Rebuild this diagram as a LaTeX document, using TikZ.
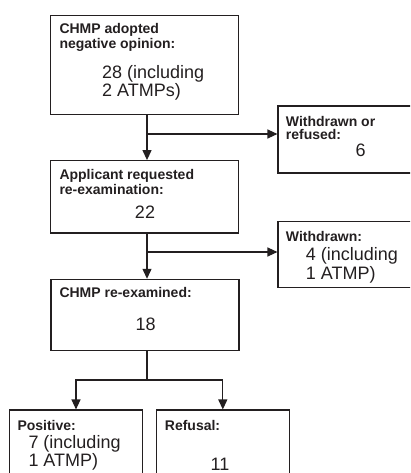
\documentclass[tikz,border=0pt]{standalone}
\usepackage{fontspec}
\setmainfont{Liberation Sans}
\usetikzlibrary{arrows.meta}
\definecolor{ink}{RGB}{35,31,32}
\tikzstyle{box}=[draw=ink, line width=1.1pt, rectangle, inner sep=0, minimum width=188pt]
\tikzstyle{sidebox}=[box, minimum width=152pt, minimum height=67pt]
\tikzstyle{endbox}=[box, minimum width=133pt, minimum height=80pt]
% multi-line texts sit on the baseline of their last line
\tikzstyle{title}=[inner sep=0, anchor=base west, align=left, text=ink,
                   font=\fontsize{14}{15}\selectfont\bfseries]
\tikzstyle{count}=[inner sep=0, anchor=base west, align=left, text=ink,
                   font=\fontsize{18}{18.4}\selectfont]
\tikzstyle{arr}=[draw=ink, line width=1.2pt, -{Triangle[length=10pt,width=9pt]}]
\tikzstyle{link}=[draw=ink, line width=1.2pt]

\begin{document}
\begin{tikzpicture}[x=1pt, y=-1pt]
    \useasboundingbox (0, 0) rectangle (410, 473);
    \clip (0, 0) rectangle (410, 473);
    % boxes
    \node[box, minimum height=99.5pt] (adopted) at (144.5, 65.2) {};
    \node[sidebox] (refused) at (354, 139.5) {};
    \node[box, minimum height=72.3pt] (request) at (144.5, 196.8) {};
    \node[sidebox, minimum height=66pt] (withdrawn) at (354, 254.7) {};
    \node[box, minimum height=70.7pt] (reexam) at (145, 314.7) {};
    \node[endbox] (positive) at (76, 450) {};
    \node[endbox] (refusal) at (222.8, 450) {};
    % texts
    \node[title] (adoptedT) at (59.3, 48.3) {CHMP adopted\\negative opinion:};
    \node[count] (adoptedN) at (102, 96.7) {28 (including\\2 ATMPs)};
    \node[title, font=\fontsize{14}{12.7}\selectfont\bfseries] (refusedT) at (285.7, 139.3) {Withdrawn or\\refused:};
    \node[count, anchor=base] (refusedN) at (360.7, 156.7) {6};
    \node[title] (requestT) at (59.3, 194) {Applicant requested\\re-examination:};
    \node[count, anchor=base] (requestN) at (145, 218.7) {22};
    \node[title] (withdrawnT) at (285.7, 241.7) {Withdrawn:};
    \node[count, font=\fontsize{18}{18.6}\selectfont] (withdrawnN) at (305.7, 279.3) {4 (including\\1 ATMP)};
    \node[title] (reexamT) at (59.3, 297) {CHMP re-examined:};
    \node[count, anchor=base] (reexamN) at (145.7, 330.3) {18};
    \node[title] (positiveT) at (17.3, 430) {Positive:};
    \node[count] (positiveN) at (28.3, 466.7) {7 (including\\1 ATMP)};
    \node[title] (refusalT) at (164.7, 430) {Refusal:};
    \node[count, anchor=base] (refusalN) at (220, 470) {11};
    % connectors
    \coordinate (split1) at (147, 134);
    \coordinate (split2) at (147, 252);
    \coordinate (split3) at (147, 380);
    \draw[arr] (split1 |- adopted.south) -- (split1 |- request.north);
    \draw[arr] (split1) -- (split1 -| refused.west);
    \draw[arr] (split2 |- request.south) -- (split2 |- reexam.north);
    \draw[arr] (split2) -- (split2 -| withdrawn.west);
    \draw[link] (split3 |- reexam.south) -- (split3);
    \draw[arr] (split3) -| (positive.north);
    \draw[arr] (split3) -| (refusal.north);
\end{tikzpicture}
\end{document}
